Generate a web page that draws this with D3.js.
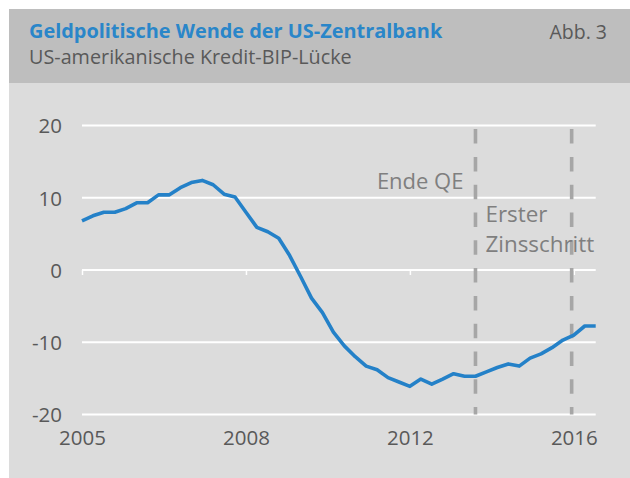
<!DOCTYPE html>
<html>
<head>
<meta charset="utf-8">
<script src="https://cdn.jsdelivr.net/npm/d3@7"></script>
<style>
  html, body { margin: 0; padding: 0; background: #ffffff; }
  svg { display: block; }
  text { font-family: "Open Sans", "Noto Sans", sans-serif; }
</style>
</head>
<body>
<svg id="chart" width="630" height="478"></svg>
<script>
// ---- data ----
const quarters = [
  "2005Q1","2005Q2","2005Q3","2005Q4","2006Q1","2006Q2","2006Q3","2006Q4",
  "2007Q1","2007Q2","2007Q3","2007Q4","2008Q1","2008Q2","2008Q3","2008Q4",
  "2009Q1","2009Q2","2009Q3","2009Q4","2010Q1","2010Q2","2010Q3","2010Q4",
  "2011Q1","2011Q2","2011Q3","2011Q4","2012Q1","2012Q2","2012Q3","2012Q4",
  "2013Q1","2013Q2","2013Q3","2013Q4","2014Q1","2014Q2","2014Q3","2014Q4",
  "2015Q1","2015Q2","2015Q3","2015Q4","2016Q1","2016Q2","2016Q3","2016Q4"
];
const creditGap = [
  6.8, 7.5, 8.0, 8.0, 8.5, 9.3, 9.3, 10.4,
  10.4, 11.4, 12.1, 12.4, 11.8, 10.5, 10.1, 8.0,
  5.9, 5.3, 4.4, 2.0, -0.9, -3.9, -5.9, -8.6,
  -10.5, -12.0, -13.3, -13.8, -14.9, -15.5, -16.1, -15.1,
  -15.8, -15.1, -14.35, -14.7, -14.7, -14.1, -13.5, -13.0,
  -13.3, -12.2, -11.6, -10.75, -9.7, -9.0, -7.75, -7.75
];
const yTicks = [20, 10, 0, -10, -20];
const xTickQuarters = ["2005Q1", "2008Q4", "2012Q3", "2016Q2"];
const eventPositions = [36.0, 44.8];          // position in quarter index
const eventLabels = [["Ende QE"], ["Erster", "Zinsschritt"]];
const titleText = "Geldpolitische Wende der US-Zentralbank";
const subtitleText = "US-amerikanische Kredit-BIP-Lücke";
const figText = "Abb. 3";

// ---- layout ----
const svg = d3.select("#chart");
const W = 630, H = 478;
const plot = { left: 82, right: 595.7, top: 125.5, bottom: 414.5 };

svg.append("rect").attr("x", 9).attr("y", 9).attr("width", W - 9).attr("height", H - 9).attr("fill", "#dcdcdc");
svg.append("rect").attr("x", 9).attr("y", 9).attr("width", W - 9).attr("height", 74).attr("fill", "#bebebe");

svg.append("text").attr("x", 29).attr("y", 38)
  .attr("fill", "#2a86c9").attr("font-weight", "bold").attr("font-size", 19.9)
  .text(titleText);
svg.append("text").attr("x", 29).attr("y", 64)
  .attr("fill", "#595959").attr("font-size", 19.8)
  .text(subtitleText);
svg.append("text").attr("x", 607).attr("y", 39).attr("text-anchor", "end")
  .attr("fill", "#595959").attr("font-size", 19.5)
  .text(figText);

// ---- scales ----
const x = d3.scaleLinear().domain([0, quarters.length - 1]).range([plot.left, plot.right]);
const y = d3.scaleLinear().domain([-20, 20]).range([plot.bottom, plot.top]);

// gridlines
svg.append("g").selectAll("line").data(yTicks).join("line")
  .attr("x1", plot.left).attr("x2", plot.right)
  .attr("y1", d => y(d)).attr("y2", d => y(d))
  .attr("stroke", "#ffffff").attr("stroke-width", 2);

// y axis labels
const yAxis = svg.append("g").attr("transform", `translate(${plot.left},0)`)
  .call(d3.axisLeft(y).tickValues(yTicks).tickSize(0).tickPadding(20).tickFormat(d => String(d)));
yAxis.select(".domain").remove();
yAxis.selectAll("text").attr("font-size", 20.5).attr("fill", "#595959")
  .attr("font-family", "'Open Sans', 'Noto Sans', sans-serif").attr("dy", "0.36em");

// x axis: ticks on zero line, labels below plot
const xTickIdx = xTickQuarters.map(q => quarters.indexOf(q));
const xAxis = svg.append("g").attr("transform", `translate(0,${y(0)})`)
  .call(d3.axisBottom(x).tickValues(xTickIdx).tickSize(5).tickFormat(""));
xAxis.select(".domain").remove();
xAxis.selectAll("line").attr("stroke", "#ffffff").attr("stroke-width", 1.5);

const xLab = svg.append("g").attr("transform", `translate(0,${plot.bottom})`)
  .call(d3.axisBottom(x).tickValues(xTickIdx).tickSize(0).tickPadding(16)
    .tickFormat(i => quarters[i].slice(0, 4)));
xLab.select(".domain").remove();
xLab.selectAll("text").attr("font-size", 20.5).attr("fill", "#595959")
  .attr("font-family", "'Open Sans', 'Noto Sans', sans-serif");

// event dashed lines
svg.append("g").selectAll("line").data(eventPositions).join("line")
  .attr("x1", d => x(d)).attr("x2", d => x(d))
  .attr("y1", y(19.5)).attr("y2", y(-20))
  .attr("stroke", "#a6a6a6").attr("stroke-width", 3.6)
  .attr("stroke-dasharray", "14.5,13.3");

// event labels
svg.append("text").attr("x", x(eventPositions[0]) - 12).attr("y", 189)
  .attr("text-anchor", "end").attr("fill", "#7f7f7f").attr("font-size", 22)
  .text(eventLabels[0][0]);
const t2 = svg.append("text").attr("x", x(eventPositions[0]) + 10).attr("y", 222)
  .attr("fill", "#7f7f7f").attr("font-size", 22.4);
eventLabels[1].forEach((s, i) => {
  t2.append("tspan").attr("x", x(eventPositions[0]) + 10).attr("dy", i === 0 ? 0 : 29.7).text(s);
});

// line
const line = d3.line().x((d, i) => x(i)).y(d => y(d));
svg.append("path").datum(creditGap)
  .attr("d", line).attr("fill", "none")
  .attr("stroke", "#2481c8").attr("stroke-width", 3.6)
  .attr("stroke-linejoin", "round").attr("stroke-linecap", "butt");
</script>
</body>
</html>
